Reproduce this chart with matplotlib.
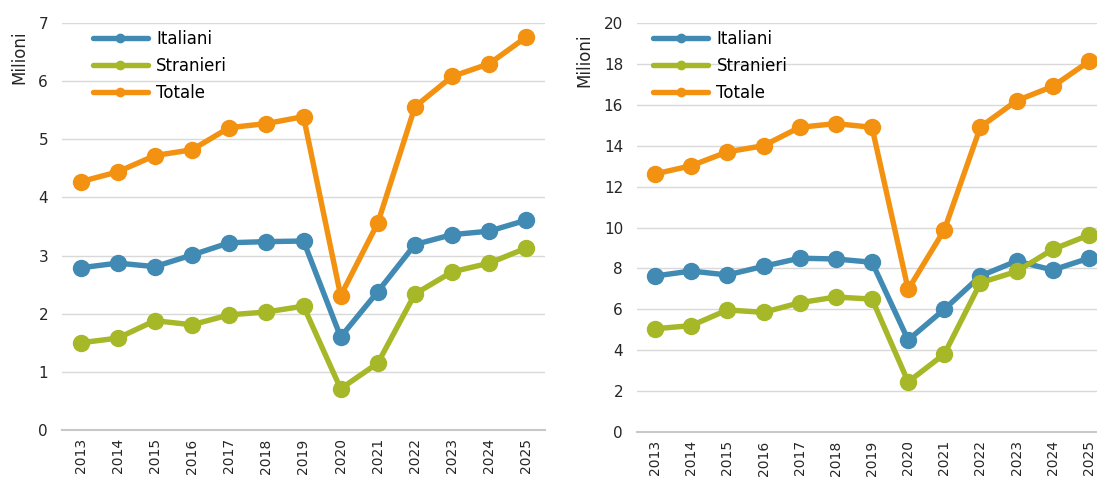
import matplotlib
matplotlib.use("Agg")
import matplotlib.pyplot as plt
from matplotlib.lines import Line2D

years = ["2013", "2014", "2015", "2016", "2017", "2018", "2019",
         "2020", "2021", "2022", "2023", "2024", "2025"]

# Left chart (Milioni)
left_italiani = [2.79, 2.87, 2.81, 3.01, 3.22, 3.24, 3.25, 1.60, 2.38, 3.19, 3.36, 3.42, 3.61]
left_stranieri = [1.50, 1.58, 1.88, 1.81, 1.98, 2.03, 2.13, 0.71, 1.15, 2.34, 2.72, 2.87, 3.13]
left_totale = [4.27, 4.44, 4.72, 4.82, 5.20, 5.27, 5.39, 2.31, 3.56, 5.56, 6.08, 6.30, 6.76]

# Right chart (Milioni)
right_italiani = [7.63, 7.87, 7.68, 8.10, 8.50, 8.46, 8.30, 4.50, 6.00, 7.63, 8.36, 7.92, 8.50]
right_stranieri = [5.05, 5.20, 5.97, 5.85, 6.32, 6.60, 6.50, 2.45, 3.81, 7.30, 7.85, 8.93, 9.63]
right_totale = [12.62, 13.02, 13.70, 14.00, 14.90, 15.08, 14.90, 6.97, 9.88, 14.92, 16.20, 16.90, 18.12]

series_names = ["Italiani", "Stranieri", "Totale"]
colors = ["#418AB3", "#A6B727", "#F39110"]

plt.rcParams['font.family'] = ['DejaVu Sans']

fig = plt.figure(figsize=(10.97, 4.79), dpi=100)
W, H = 1097, 479
ax1 = fig.add_axes([62 / W, 1 - 430 / H, (545 - 62) / W, (430 - 23) / H])
ax2 = fig.add_axes([637 / W, 1 - 432 / H, (1107 - 637) / W, (432 - 23) / H])

def draw(ax, data, ymax, step, leg_x):
    x = list(range(len(years)))
    for vals, c in zip(data, colors):
        ax.plot(x, vals, color=c, lw=3.9, marker='o', markersize=11.5,
                solid_joinstyle='round', solid_capstyle='round')
    ax.set_xlim(-0.5, len(years) - 0.5)
    ax.set_ylim(0, ymax)
    ax.set_yticks(range(0, ymax + 1, step))
    ax.set_xticks(x)
    ax.set_xticklabels(years, rotation=90, fontsize=10, color='#262626')
    ax.tick_params(axis='y', labelsize=11, colors='#262626', length=0, pad=10)
    ax.tick_params(axis='x', length=0, pad=6)
    ax.grid(axis='y', color='#D9D9D9', lw=1)
    ax.set_axisbelow(True)
    for s in ['top', 'right', 'left']:
        ax.spines[s].set_visible(False)
    ax.spines['bottom'].set_color('#C8C8C8')
    ax.spines['bottom'].set_linewidth(1.5)
    ax.set_ylabel("Milioni", fontsize=12, color='#262626')
    handles = [Line2D([0], [0], color=c, lw=3.9, marker='o', markersize=6,
                      solid_capstyle='round') for c in colors]
    ax.legend(handles, series_names, loc='upper left', bbox_to_anchor=(leg_x, 1.0),
              frameon=False, fontsize=12, handlelength=3.3, handletextpad=0.5,
              labelspacing=0.55, borderaxespad=0, borderpad=0.4)

draw(ax1, [left_italiani, left_stranieri, left_totale], 7, 1, 0.05)
draw(ax2, [right_italiani, right_stranieri, right_totale], 20, 2, 0.02)
ax1.yaxis.set_label_coords(-0.07, 0.915)
ax2.yaxis.set_label_coords(-0.093, 0.91)

fig.savefig("out.png", dpi=100)
